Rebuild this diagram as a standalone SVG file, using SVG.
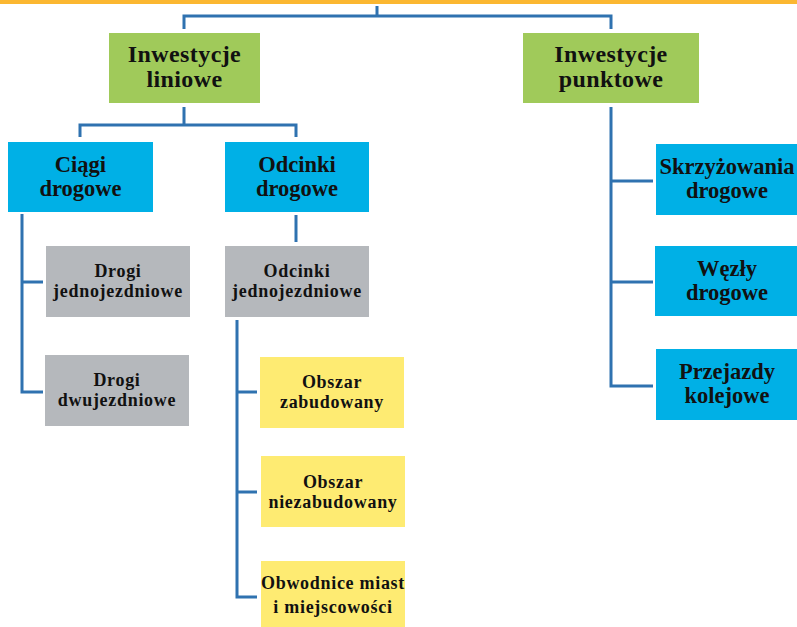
<svg xmlns="http://www.w3.org/2000/svg" width="797" height="627" viewBox="0 0 797 627">
<style>
.g{fill:#A0CA5A}
.b{fill:#00B0E6}
.gr{fill:#B5B8BC}
.y{fill:#FEEB72}
.t{font-family:"Liberation Serif","Times New Roman",serif;font-weight:bold;fill:#111;text-anchor:middle}
.big{font-size:22.5px}
.grn{font-size:24px;letter-spacing:0.4px}
.sm{font-size:18px;letter-spacing:0.7px}
.c{fill:none;stroke:#2F72B0;stroke-width:3}
</style>
<rect x="0" y="0" width="797" height="4" fill="#FBB731"/>
<g id="connectors" class="c">
<path d="M377 6V16M184 29V16H611V29"/>
<path d="M184 107V125M80 137V125H296V137"/>
<path d="M22 214V392H43M22 282H43"/>
<path d="M296 215V242"/>
<path d="M237 320V597H257M237 392H257M237 492H257"/>
<path d="M611 107V386H653M611 181H653M611 282H653"/>
</g>
<g id="n-liniowe"><rect class="g" x="109" y="33" width="151" height="70"/><text class="t grn" x="184.5" y="62">Inwestycje</text><text class="t grn" x="184.5" y="87">liniowe</text></g>
<g id="n-punktowe"><rect class="g" x="523" y="33" width="176" height="70"/><text class="t grn" x="611" y="62">Inwestycje</text><text class="t grn" x="611" y="87">punktowe</text></g>
<g id="n-ciagi"><rect class="b" x="8" y="142" width="145" height="70"/><text class="t big" x="80.5" y="172">Ciągi</text><text class="t big" x="80.5" y="196">drogowe</text></g>
<g id="n-odcinki"><rect class="b" x="225" y="142" width="144" height="70"/><text class="t big" x="297" y="172">Odcinki</text><text class="t big" x="297" y="196">drogowe</text></g>
<g id="n-drogi1"><rect class="gr" x="46" y="246" width="144" height="71"/><text class="t sm" x="118" y="277">Drogi</text><text class="t sm" x="118" y="297">jednojezdniowe</text></g>
<g id="n-drogi2"><rect class="gr" x="45" y="355" width="144" height="71"/><text class="t sm" x="117" y="386">Drogi</text><text class="t sm" x="117" y="406">dwujezdniowe</text></g>
<g id="n-odc1"><rect class="gr" x="225" y="246" width="144" height="71"/><text class="t sm" x="297" y="277">Odcinki</text><text class="t sm" x="297" y="297">jednojezdniowe</text></g>
<g id="n-obszar1"><rect class="y" x="260" y="357" width="144" height="71"/><text class="t sm" x="332" y="388">Obszar</text><text class="t sm" x="332" y="408">zabudowany</text></g>
<g id="n-obszar2"><rect class="y" x="261" y="456" width="144" height="71"/><text class="t sm" x="333" y="488">Obszar</text><text class="t sm" x="333" y="508">niezabudowany</text></g>
<g id="n-obwodnice"><rect class="y" x="261" y="561" width="144" height="66"/><text class="t sm" x="333" y="589">Obwodnice miast</text><text class="t sm" x="333" y="613">i miejscowości</text></g>
<g id="n-skrzyz"><rect class="b" x="656" y="144" width="144" height="71"/><text class="t big" x="727" y="174">Skrzyżowania</text><text class="t big" x="727" y="198">drogowe</text></g>
<g id="n-wezly"><rect class="b" x="655" y="246" width="145" height="70"/><text class="t big" x="727" y="276">Węzły</text><text class="t big" x="727" y="300">drogowe</text></g>
<g id="n-przejazdy"><rect class="b" x="656" y="349" width="144" height="71"/><text class="t big" x="727" y="379">Przejazdy</text><text class="t big" x="727" y="403">kolejowe</text></g>
</svg>
